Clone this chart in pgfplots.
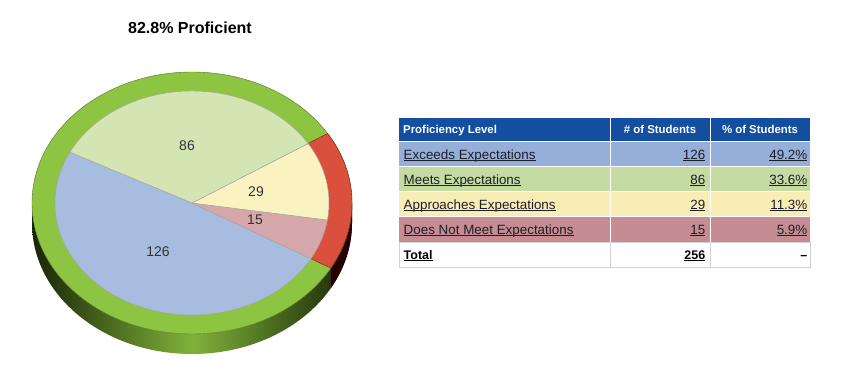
\documentclass[border=0pt]{standalone}
\usepackage{pgfplots}
\pgfplotsset{compat=1.18}
\usepackage{pgfplotstable}
\usepackage{fontspec}
\setmainfont{Liberation Sans}

\definecolor{ringgreen}{RGB}{141,196,66}
\definecolor{ringred}{RGB}{219,80,60}
\definecolor{sidedark}{RGB}{24,38,6}
\definecolor{sidemid}{RGB}{128,178,58}
\definecolor{sblue}{RGB}{166,189,224}
\definecolor{sgreen}{RGB}{211,229,178}
\definecolor{syellow}{RGB}{250,243,193}
\definecolor{spink}{RGB}{213,166,170}
\definecolor{hdrblue}{RGB}{20,78,160}
\definecolor{rblue}{RGB}{150,175,216}
\definecolor{rgreen}{RGB}{196,219,161}
\definecolor{ryellow}{RGB}{248,238,181}
\definecolor{rpink}{RGB}{197,141,147}
\definecolor{txt}{RGB}{30,30,40}
\newcommand\ul[1]{\underline{\smash{#1}}}

% pie order counter-clockwise starting at 153 degrees
\pgfplotstableread{
name count
Exceeds 126
DoesNot 15
Approaches 29
Meets 86
}\piedata

\begin{document}
\begin{tikzpicture}[tcell/.style={inner sep=0pt,font=\fontsize{13.4}{16}\selectfont,text=txt},
  hcell/.style={inner sep=0pt,font=\fontsize{11.4}{13}\selectfont\bfseries,text=white},
  totcell/.style={inner sep=0pt,font=\fontsize{12.5}{15}\selectfont\bfseries,text=black}]
\pgfplotstablegetelem{0}{count}\of\piedata \edef\cA{\pgfplotsretval}
\pgfplotstablegetelem{1}{count}\of\piedata \edef\cB{\pgfplotsretval}
\pgfplotstablegetelem{2}{count}\of\piedata \edef\cC{\pgfplotsretval}
\pgfplotstablegetelem{3}{count}\of\piedata \edef\cD{\pgfplotsretval}
\pgfmathsetmacro\tot{\cA+\cB+\cC+\cD}
\pgfmathsetmacro\aA{153}
\pgfmathsetmacro\aB{\aA+\cA/\tot*360}
\pgfmathsetmacro\aC{\aB+\cB/\tot*360}
\pgfmathsetmacro\aD{\aC+\cC/\tot*360}
\pgfmathsetmacro\aE{\aD+\cD/\tot*360}
\begin{axis}[width=850pt,height=387pt,scale only axis,
  xmin=0,xmax=850,ymin=0,ymax=387,hide axis,clip=false]
\path (axis cs:0,0) rectangle (axis cs:850,387);
% side of the pie
\shade[left color=sidedark,right color=sidedark,middle color=sidemid]
  (axis cs:32,184) arc[start angle=180,end angle=360,x radius=160pt,y radius=131pt]
  -- ++(0,-20pt) arc[start angle=360,end angle=180,x radius=160pt,y radius=131pt] -- cycle;
\fill[black!75!red!60!black]
  (axis cs:192,184) ++(\aB:160pt and 131pt) arc[start angle=\aB,end angle=360,x radius=160pt,y radius=131pt]
  -- ++(0,-20pt) arc[start angle=360,end angle=\aB,x radius=160pt,y radius=131pt] -- cycle;
% outer ring
\filldraw[fill=ringgreen,draw=ringgreen!60!black,line width=0.4pt] (axis cs:192,184) ellipse[x radius=160pt,y radius=131pt];
\filldraw[fill=ringred,draw=ringred!50!black,line width=0.4pt] (axis cs:192,184) -- ++(\aB:160pt and 131pt)
  arc[start angle=\aB,end angle=\aD,x radius=160pt,y radius=131pt] -- cycle;
% slices
\filldraw[fill=sblue,draw=gray!70,line width=0.5pt] (axis cs:192,184) -- ++(\aA:137pt and 112pt)
  arc[start angle=\aA,end angle=\aB,x radius=137pt,y radius=112pt] -- cycle;
\filldraw[fill=spink,draw=gray!70,line width=0.5pt] (axis cs:192,184) -- ++(\aB:137pt and 112pt)
  arc[start angle=\aB,end angle=\aC,x radius=137pt,y radius=112pt] -- cycle;
\filldraw[fill=syellow,draw=gray!70,line width=0.5pt] (axis cs:192,184) -- ++(\aC:137pt and 112pt)
  arc[start angle=\aC,end angle=\aD,x radius=137pt,y radius=112pt] -- cycle;
\filldraw[fill=sgreen,draw=gray!70,line width=0.5pt] (axis cs:192,184) -- ++(\aD:137pt and 112pt)
  arc[start angle=\aD,end angle=\aE,x radius=137pt,y radius=112pt] -- cycle;
% slice labels
\node[font=\fontsize{14}{16}\selectfont,text=black!80] at (axis cs:187,241) {86};
\node[font=\fontsize{14}{16}\selectfont,text=black!80] at (axis cs:256,195) {29};
\node[font=\fontsize{14}{16}\selectfont,text=black!80] at (axis cs:255,167) {15};
\node[font=\fontsize{14}{16}\selectfont,text=black!80] at (axis cs:158,135) {126};
% title
\node[anchor=base,font=\fontsize{16}{19}\selectfont\bfseries] at (axis cs:190,353.7) {82.8\% Proficient};
% table
\fill[hdrblue] (axis cs:399,245) rectangle (axis cs:810,269);
\fill[rblue] (axis cs:399,220) rectangle (axis cs:810,245);
\fill[rgreen] (axis cs:399,195) rectangle (axis cs:810,220);
\fill[ryellow] (axis cs:399,170) rectangle (axis cs:810,195);
\fill[rpink] (axis cs:399,145) rectangle (axis cs:810,170);
\draw[gray!35,line width=0.8pt] (axis cs:399,145) rectangle (axis cs:810,120);
\draw[gray!35,line width=0.8pt] (axis cs:610,145) -- (axis cs:610,120);
\draw[gray!35,line width=0.8pt] (axis cs:710,145) -- (axis cs:710,120);
\draw[white,line width=1pt] (axis cs:610,145) -- (axis cs:610,269);
\draw[white,line width=1pt] (axis cs:710,145) -- (axis cs:710,269);
\draw[white,line width=1pt] (axis cs:399,170) -- (axis cs:810,170);
\draw[white,line width=1pt] (axis cs:399,195) -- (axis cs:810,195);
\draw[white,line width=1pt] (axis cs:399,220) -- (axis cs:810,220);
\draw[white,line width=1pt] (axis cs:399,245) -- (axis cs:810,245);
% header text
\node[hcell,anchor=base west] at (axis cs:403,253) {Proficiency Level};
\node[hcell,anchor=base] at (axis cs:660,253) {\# of Students};
\node[hcell,anchor=base] at (axis cs:760,253) {\% of Students};
% body rows
\node[tcell,anchor=base west] at (axis cs:403.5,227.7) {\ul{Exceeds Expectations}};
\node[tcell,anchor=base east] at (axis cs:705.5,227.7) {\ul{126}};
\node[tcell,anchor=base east] at (axis cs:807.5,227.7) {\ul{49.2\%}};
\node[tcell,anchor=base west] at (axis cs:403.5,202.7) {\ul{Meets Expectations}};
\node[tcell,anchor=base east] at (axis cs:705.5,202.7) {\ul{86}};
\node[tcell,anchor=base east] at (axis cs:807.5,202.7) {\ul{33.6\%}};
\node[tcell,anchor=base west] at (axis cs:403.5,177.7) {\ul{Approaches Expectations}};
\node[tcell,anchor=base east] at (axis cs:705.5,177.7) {\ul{29}};
\node[tcell,anchor=base east] at (axis cs:807.5,177.7) {\ul{11.3\%}};
\node[tcell,anchor=base west] at (axis cs:403.5,152.7) {\ul{Does Not Meet Expectations}};
\node[tcell,anchor=base east] at (axis cs:705.5,152.7) {\ul{15}};
\node[tcell,anchor=base east] at (axis cs:807.5,152.7) {\ul{5.9\%}};
\node[totcell,anchor=base west] at (axis cs:403.5,127.7) {\ul{Total}};
\node[totcell,anchor=base east] at (axis cs:705.5,127.7) {\ul{256}};
\node[totcell,anchor=base east] at (axis cs:807.5,127.7) {--};
\end{axis}
\end{tikzpicture}
\end{document}
